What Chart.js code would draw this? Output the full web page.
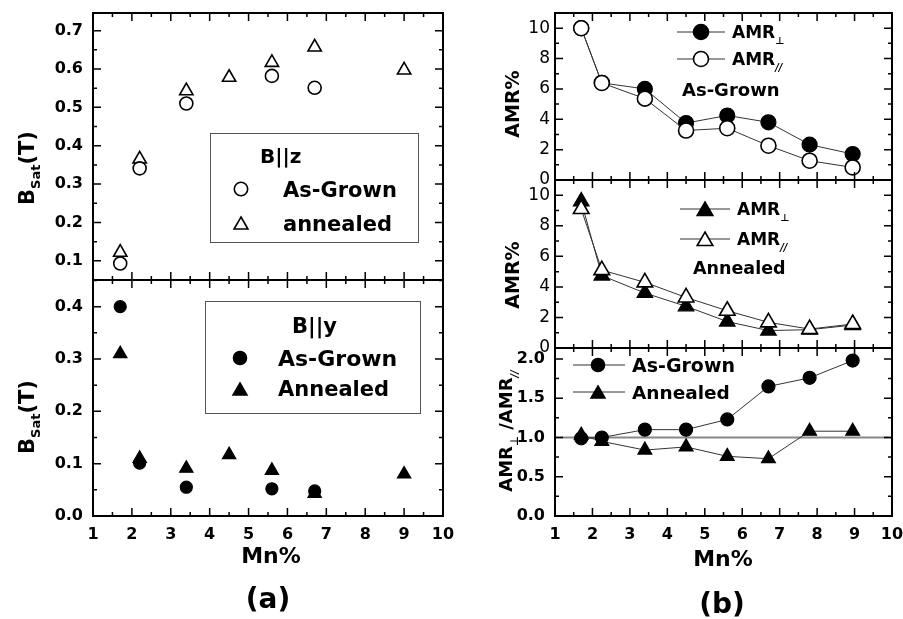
<!DOCTYPE html>
<html lang="en">
<head>
<meta charset="UTF-8">
<title>B_Sat and AMR vs Mn%</title>
<style>
    body { margin: 0; background: #fff; }
    .wrap { position: relative; width: 903px; height: 619px; }
    .wrap canvas { position: absolute; left: 0; top: 0; }
</style>
</head>
<body>
<div class="wrap">
    <canvas id="aTop" width="903" height="619"></canvas>
    <canvas id="aBot" width="903" height="619"></canvas>
    <canvas id="bTop" width="903" height="619"></canvas>
    <canvas id="bMid" width="903" height="619"></canvas>
    <canvas id="bBot" width="903" height="619"></canvas>
</div>

<script src="https://cdn.jsdelivr.net/npm/chart.js@4.4.0/dist/chart.umd.min.js"></script>
<script>
    // ---- data ----
    // (a) upper: B || z
    const zGrownMn = [1.7, 2.2, 3.4, 5.6, 6.7];
    const zGrownB  = [0.093, 0.341, 0.51, 0.582, 0.551];
    const zAnnMn   = [1.7, 2.2, 3.4, 4.5, 5.6, 6.7, 9.0];
    const zAnnB    = [0.122, 0.365, 0.543, 0.578, 0.617, 0.657, 0.597];

    // (a) lower: B || y
    const yGrownMn = [1.7, 2.2, 3.4, 5.6, 6.7];
    const yGrownB  = [0.400, 0.101, 0.055, 0.052, 0.048];
    const yAnnMn   = [1.7, 2.2, 3.4, 4.5, 5.6, 6.7, 9.0];
    const yAnnB    = [0.310, 0.110, 0.091, 0.117, 0.087, 0.043, 0.080];

    // (b) AMR in %
    const amrMn      = [1.7, 2.25, 3.4, 4.5, 5.6, 6.7, 7.8, 8.95];
    const grownPerp  = [10.0, 6.4, 6.0, 3.75, 4.25, 3.8, 2.33, 1.71];
    const grownPar   = [10.0, 6.39, 5.36, 3.26, 3.41, 2.26, 1.27, 0.83];
    const annPerp    = [9.6, 4.74, 3.6, 2.73, 1.73, 1.14, 1.2, 1.5];
    const annPar     = [9.1, 5.1, 4.3, 3.31, 2.44, 1.68, 1.24, 1.57];
    const ratioGrown = [0.99, 1.0, 1.1, 1.1, 1.23, 1.65, 1.76, 1.98];
    const ratioAnn   = [1.03, 0.95, 0.84, 0.88, 0.76, 0.73, 1.08, 1.08];
    const unityMn    = [1, 10];
    const unityVal   = [1, 1];

    const FONT = '"DejaVu Sans", sans-serif';

    const pts = (xs, ys) => xs.map((x, i) => ({ x: x, y: ys[i] }));

    // marker drawn the same way Chart.js draws circle / triangle points
    function marker(ctx, style, x, y, r, filled) {
        ctx.beginPath();
        if (style === 'circle') {
            ctx.arc(x, y, r, 0, Math.PI * 2);
        } else {
            let rad = 0;
            ctx.moveTo(x + Math.sin(rad) * r, y - Math.cos(rad) * r);
            rad += Math.PI * 2 / 3;
            ctx.lineTo(x + Math.sin(rad) * r, y - Math.cos(rad) * r);
            rad += Math.PI * 2 / 3;
            ctx.lineTo(x + Math.sin(rad) * r, y - Math.cos(rad) * r);
            ctx.closePath();
        }
        ctx.fillStyle = filled ? '#000' : '#fff';
        ctx.fill();
        ctx.lineWidth = 1.6;
        ctx.strokeStyle = '#000';
        ctx.stroke();
    }

    // text with sub-scripts; parts = [text, size, dy, style]
    function rich(ctx, parts, x, y, align, rotate) {
        ctx.save();
        ctx.translate(x, y);
        if (rotate) ctx.rotate(-Math.PI / 2);
        ctx.textBaseline = 'alphabetic';
        ctx.textAlign = 'left';
        ctx.fillStyle = '#000';
        let w = 0;
        parts.forEach(p => {
            ctx.font = (p[3] || 'bold') + ' ' + p[1] + 'px ' + FONT;
            w += ctx.measureText(p[0]).width;
        });
        let cx = align === 'center' ? -w / 2 : 0;
        const base = parts[0][1] * 0.36;
        parts.forEach(p => {
            ctx.font = (p[3] || 'bold') + ' ' + p[1] + 'px ' + FONT;
            ctx.fillText(p[0], cx, base + (p[2] || 0));
            cx += ctx.measureText(p[0]).width;
        });
        ctx.restore();
    }

    // box with inward major/minor ticks on all four sides
    const framePlugin = {
        id: 'frame',
        afterDatasetsDraw(chart) {
            const { ctx, chartArea: a, scales: { x, y } } = chart;
            ctx.save();
            ctx.strokeStyle = '#000';
            ctx.lineWidth = 2;
            ctx.strokeRect(a.left, a.top, a.right - a.left, a.bottom - a.top);
            ctx.lineWidth = 1.5;
            ctx.beginPath();
            for (let v = x.min; v <= x.max + 1e-9; v += 0.5) {
                const px = x.getPixelForValue(v);
                const len = Math.abs(v - Math.round(v)) < 1e-6 ? 8 : 4;
                ctx.moveTo(px, a.bottom); ctx.lineTo(px, a.bottom - len);
                ctx.moveTo(px, a.top); ctx.lineTo(px, a.top + len);
            }
            const yt = y.ticks.map(t => t.value);
            const st = yt[1] - yt[0];
            let v0 = yt[0];
            while (v0 - st / 2 >= y.min - 1e-9) v0 -= st / 2;
            for (let v = v0; v <= y.max + 1e-9; v += st / 2) {
                const py = y.getPixelForValue(v);
                const k = (v - yt[0]) / st;
                const len = Math.abs(k - Math.round(k)) < 1e-6 ? 8 : 4;
                ctx.moveTo(a.left, py); ctx.lineTo(a.left + len, py);
                ctx.moveTo(a.right, py); ctx.lineTo(a.right - len, py);
            }
            ctx.stroke();
            ctx.restore();
        }
    };

    function panel(id, cfg) {
        const xH = cfg.showX ? 30 : 0;
        return new Chart(document.getElementById(id), {
            type: 'scatter',
            data: { datasets: cfg.datasets },
            options: {
                responsive: false,
                animation: false,
                events: [],
                layout: {
                    padding: {
                        left: cfg.left - cfg.yWidth,
                        right: 903 - cfg.right,
                        top: cfg.top,
                        bottom: 619 - cfg.bottom - xH
                    }
                },
                plugins: { legend: { display: false }, tooltip: { enabled: false } },
                scales: {
                    x: {
                        type: 'linear',
                        min: 1, max: 10,
                        ticks: {
                            display: cfg.showX, stepSize: 1, padding: 9, color: '#000',
                            font: { family: FONT, size: 16, weight: 'bold' }
                        },
                        grid: { display: false, drawTicks: false },
                        border: { display: false },
                        afterFit: s => { s.height = xH; s.paddingLeft = 0; s.paddingRight = 0; }
                    },
                    y: {
                        min: cfg.yMin, max: cfg.yMax,
                        ticks: {
                            stepSize: cfg.yStep, includeBounds: false, padding: cfg.yPad, color: '#000',
                            font: cfg.yFont,
                            callback: v => v.toFixed(cfg.dec)
                        },
                        grid: { display: false, drawTicks: false },
                        border: { display: false },
                        afterFit: s => { s.width = cfg.yWidth; s.paddingTop = 0; s.paddingBottom = 0; }
                    }
                }
            },
            plugins: [framePlugin, { id: 'deco', afterDraw: c => cfg.deco(c.ctx) }]
        });
    }

    const boldTick = { family: FONT, size: 16, weight: 'bold' };
    const plainTick = { family: FONT, size: 17, weight: 'normal' };

    function openSet(data, style, r, order) {
        return { data: data, pointStyle: style, pointRadius: r, pointBorderWidth: 1.6,
                 pointBorderColor: '#000', pointBackgroundColor: '#fff', order: order };
    }
    function fillSet(data, style, r, order) {
        return { data: data, pointStyle: style, pointRadius: r, pointBorderWidth: 1.2,
                 pointBorderColor: '#000', pointBackgroundColor: '#000', order: order };
    }
    function withLine(ds) {
        return Object.assign(ds, { showLine: true, borderColor: '#333', borderWidth: 1 });
    }

    // ---- (a) upper ----
    panel('aTop', {
        left: 93, right: 443, top: 13, bottom: 280, yWidth: 93, yPad: 10,
        yMin: 0.05, yMax: 0.746, yStep: 0.1, dec: 1, yFont: boldTick, showX: false,
        datasets: [
            openSet(pts(zGrownMn, zGrownB), 'circle', 6.5, 0),
            openSet(pts(zAnnMn, zAnnB), 'triangle', 7.7, 1)
        ],
        deco: ctx => {
            ctx.save();
            ctx.strokeStyle = '#555'; ctx.lineWidth = 1;
            ctx.strokeRect(210.5, 133.5, 208, 109);
            ctx.restore();
            rich(ctx, [['B||z', 20]], 260, 156, 'left');
            marker(ctx, 'circle', 241, 189, 6.7, false);
            rich(ctx, [['As-Grown', 21]], 283, 189, 'left');
            marker(ctx, 'triangle', 241, 225, 8, false);
            rich(ctx, [['annealed', 21]], 283, 223, 'left');
            rich(ctx, [['B', 21], ['Sat', 13, 6], ['(T)', 21]], 26, 168, 'center', true);
        }
    });

    // ---- (a) lower ----
    panel('aBot', {
        left: 93, right: 443, top: 280, bottom: 516, yWidth: 93, yPad: 10,
        yMin: 0, yMax: 0.451, yStep: 0.1, dec: 1, yFont: boldTick, showX: true,
        datasets: [
            fillSet(pts(yGrownMn, yGrownB), 'circle', 6, 0),
            fillSet(pts(yAnnMn, yAnnB), 'triangle', 7.7, 1)
        ],
        deco: ctx => {
            ctx.save();
            ctx.strokeStyle = '#555'; ctx.lineWidth = 1;
            ctx.strokeRect(205.5, 301.5, 215, 112);
            ctx.restore();
            rich(ctx, [['B||y', 21]], 292, 325, 'left');
            marker(ctx, 'circle', 240, 358, 6.5, true);
            rich(ctx, [['As-Grown', 22]], 278, 358, 'left');
            marker(ctx, 'triangle', 240, 391, 8, true);
            rich(ctx, [['Annealed', 21]], 278, 388, 'left');
            rich(ctx, [['B', 21], ['Sat', 13, 6], ['(T)', 21]], 26, 417, 'center', true);
            rich(ctx, [['Mn%', 22]], 271, 555, 'center');
            rich(ctx, [['(a)', 28]], 268, 598, 'center');
        }
    });

    // ---- (b) top: as-grown AMR ----
    panel('bTop', {
        left: 555, right: 892, top: 13, bottom: 180, yWidth: 95, yPad: 5,
        yMin: 0, yMax: 11, yStep: 2, dec: 0, yFont: plainTick, showX: false,
        datasets: [
            withLine(openSet(pts(amrMn, grownPar), 'circle', 7.5, 0)),
            withLine(fillSet(pts(amrMn, grownPerp), 'circle', 7.5, 1))
        ],
        deco: ctx => {
            ctx.save(); ctx.strokeStyle = '#333'; ctx.lineWidth = 1;
            ctx.beginPath();
            ctx.moveTo(677, 32); ctx.lineTo(725, 32);
            ctx.moveTo(677, 59); ctx.lineTo(725, 59);
            ctx.stroke(); ctx.restore();
            marker(ctx, 'circle', 701, 32, 7.5, true);
            marker(ctx, 'circle', 701, 59, 7.5, false);
            rich(ctx, [['AMR', 17], ['\u22A5', 10, 6]], 732, 32, 'left');
            rich(ctx, [['AMR', 17], ['//', 10, 6, 'italic bold']], 732, 59, 'left');
            rich(ctx, [['As-Grown', 18]], 682, 90, 'left');
            rich(ctx, [['AMR%', 19]], 512, 104, 'center', true);
        }
    });

    // ---- (b) middle: annealed AMR ----
    panel('bMid', {
        left: 555, right: 892, top: 180, bottom: 348, yWidth: 95, yPad: 5,
        yMin: 0, yMax: 11, yStep: 2, dec: 0, yFont: plainTick, showX: false,
        datasets: [
            withLine(openSet(pts(amrMn, annPar), 'triangle', 9, 0)),
            withLine(fillSet(pts(amrMn, annPerp), 'triangle', 9, 1))
        ],
        deco: ctx => {
            ctx.save(); ctx.strokeStyle = '#333'; ctx.lineWidth = 1;
            ctx.beginPath();
            ctx.moveTo(680, 209); ctx.lineTo(730, 209);
            ctx.moveTo(680, 239); ctx.lineTo(730, 239);
            ctx.stroke(); ctx.restore();
            marker(ctx, 'triangle', 705, 211, 9, true);
            marker(ctx, 'triangle', 705, 241, 9, false);
            rich(ctx, [['AMR', 17], ['\u22A5', 10, 6]], 737, 209, 'left');
            rich(ctx, [['AMR', 17], ['//', 10, 6, 'italic bold']], 737, 239, 'left');
            rich(ctx, [['Annealed', 17.5]], 693, 268, 'left');
            rich(ctx, [['AMR%', 19]], 512, 275, 'center', true);
        }
    });

    // ---- (b) bottom: ratio ----
    panel('bBot', {
        left: 555, right: 892, top: 348, bottom: 516, yWidth: 95, yPad: 10,
        yMin: 0, yMax: 2.14, yStep: 0.5, dec: 1, yFont: boldTick, showX: true,
        datasets: [
            { data: pts(unityMn, unityVal), showLine: true, borderColor: '#888', borderWidth: 2,
              pointRadius: 0, order: 5 },
            withLine(fillSet(pts(amrMn, ratioGrown), 'circle', 6.5, 0)),
            withLine(fillSet(pts(amrMn, ratioAnn), 'triangle', 8, 1))
        ],
        deco: ctx => {
            ctx.save(); ctx.strokeStyle = '#333'; ctx.lineWidth = 1;
            ctx.beginPath();
            ctx.moveTo(573, 365); ctx.lineTo(625, 365);
            ctx.moveTo(573, 392); ctx.lineTo(625, 392);
            ctx.stroke(); ctx.restore();
            marker(ctx, 'circle', 598, 365, 6.5, true);
            marker(ctx, 'triangle', 598, 394, 8, true);
            rich(ctx, [['As-Grown', 19]], 632, 365, 'left');
            rich(ctx, [['Annealed', 18.5]], 632, 392, 'left');
            rich(ctx, [['AMR', 18], ['\u22A5', 11, 6], [' /AMR', 18], ['//', 10, 6, 'italic bold']], 506, 431, 'center', true);
            rich(ctx, [['Mn%', 22]], 723, 558, 'center');
            rich(ctx, [['(b)', 28]], 722, 603, 'center');
        }
    });
</script>
</body>
</html>
